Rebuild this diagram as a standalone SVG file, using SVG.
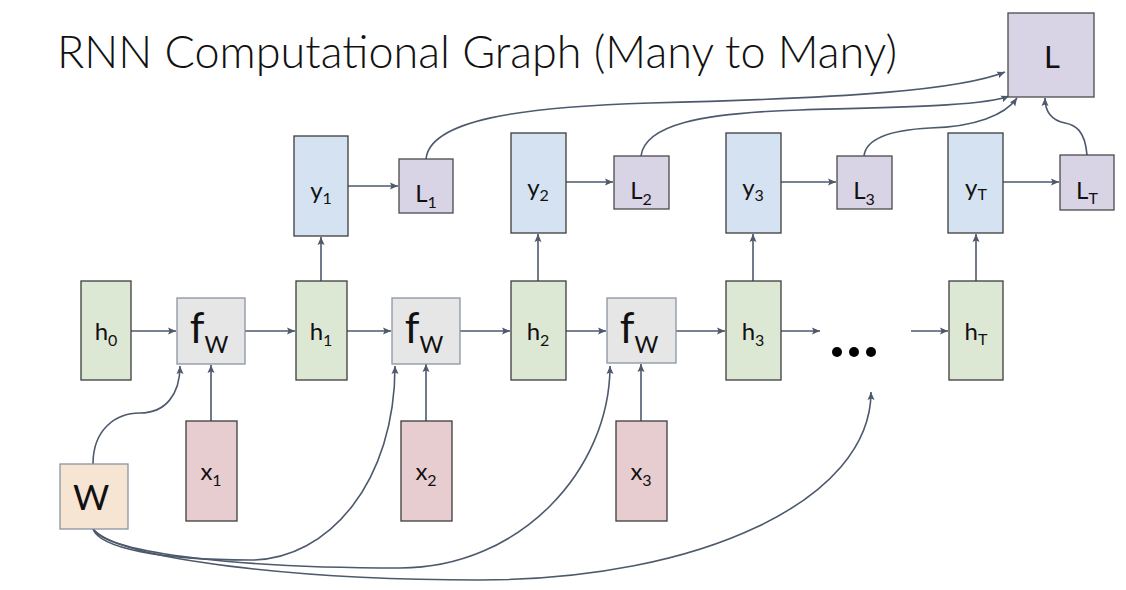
<svg xmlns="http://www.w3.org/2000/svg" width="1126" height="590" viewBox="0 0 1126 590">
<style>
  .lbl { font-family: Lato, "Open Sans", "Liberation Sans", sans-serif; font-size: 24px; fill: #111; text-anchor: middle; }
  .sub { font-size: 16px; }
  .fl { font-size: 42px; }
  .fsub { font-size: 23px; }
  .big { font-size: 31px; }
  .wl { font-size: 35px; }
  .y { fill: #d5e2f1; stroke: #3c3c3c; stroke-width: 1.3; }
  .l { fill: #d9d3e6; stroke: #4a4a4a; stroke-width: 1.3; }
  .h { fill: #dde8d4; stroke: #3c3c3c; stroke-width: 1.3; }
  .f { fill: #e6e6e6; stroke: #8a94a4; stroke-width: 1.3; }
  .x { fill: #e8cdd0; stroke: #3c3c3c; stroke-width: 1.3; }
  .w { fill: #f6e5d3; stroke: #8a94a4; stroke-width: 1.3; }
  .c { fill: none; stroke: #4d596c; stroke-width: 1.6; marker-end: url(#ah); }
</style>
<defs>
  <marker id="ah" markerUnits="userSpaceOnUse" markerWidth="9" markerHeight="8" refX="8" refY="4" orient="auto">
    <path d="M0,0.5 L8,4 L0,7.5 L1.5,4 z" fill="#4d596c"/>
  </marker>
</defs>
<rect width="1126" height="590" fill="#ffffff"/>
<text x="57" y="68" font-family="Lato, 'Open Sans', 'Liberation Sans', sans-serif" font-weight="300" font-size="46" fill="#111" textLength="840" lengthAdjust="spacingAndGlyphs">RNN Computational Graph (Many to Many)</text>

<g id="connectors">
  <path class="c" d="M131,331 H176"/>
  <path class="c" d="M245,331 H295"/>
  <path class="c" d="M347,331 H391"/>
  <path class="c" d="M460,331 H510"/>
  <path class="c" d="M566,331 H606"/>
  <path class="c" d="M676,331 H725"/>
  <path class="c" d="M781,331 H820"/>
  <path class="c" d="M911,331 H948"/>
  <path class="c" d="M348,186 H398"/>
  <path class="c" d="M566,182 H613"/>
  <path class="c" d="M781,182 H836"/>
  <path class="c" d="M1003,182 H1059"/>
  <path class="c" d="M321,281 V237"/>
  <path class="c" d="M538,281 V234"/>
  <path class="c" d="M753,281 V234"/>
  <path class="c" d="M976,281 V234"/>
  <path class="c" d="M211,421 V365"/>
  <path class="c" d="M426,421 V364"/>
  <path class="c" d="M641,421 V364"/>
  <path class="c" d="M93,464 C93,430 115,413 140,413 C165,413 180,395 180,366"/>
  <path class="c" d="M93,529 C100,548 160,560 250,560 C330,560 395,480 395,366"/>
  <path class="c" d="M93,529 C110,555 250,568 400,568 C520,568 610,470 610,366"/>
  <path class="c" d="M93,529 C120,560 300,580 480,580 C700,580 871,500 871,392"/>
  <path class="c" d="M426,159 C430,120 520,107 650,103 C850,98 960,90 1005,72"/>
  <path class="c" d="M641,156 C645,125 700,113 800,110 C900,107 985,106 1009,96"/>
  <path class="c" d="M864,156 C866,138 890,130 930,128 C975,127 1005,115 1017,98"/>
  <path class="c" d="M1087,155 C1085,130 1075,125 1065,123 C1050,120 1045,110 1045,98"/>
</g>

<g id="L"><rect class="l" x="1008" y="13" width="86" height="84"/><text class="lbl big" x="1052" y="68">L</text></g>

<g id="y1"><rect class="y" x="294" y="136" width="54" height="100"/><text class="lbl" x="321" y="199">y<tspan class="sub" dy="5">1</tspan></text></g>
<g id="L1"><rect class="l" x="399" y="159" width="54" height="54"/><text class="lbl" x="426" y="202">L<tspan class="sub" dy="6">1</tspan></text></g>
<g id="y2"><rect class="y" x="511" y="133" width="55" height="100"/><text class="lbl" x="538" y="196">y<tspan class="sub" dy="5">2</tspan></text></g>
<g id="L2"><rect class="l" x="614" y="156" width="55" height="53"/><text class="lbl" x="641" y="199">L<tspan class="sub" dy="6">2</tspan></text></g>
<g id="y3"><rect class="y" x="726" y="133" width="55" height="100"/><text class="lbl" x="753" y="196">y<tspan class="sub" dy="5">3</tspan></text></g>
<g id="L3"><rect class="l" x="837" y="156" width="55" height="53"/><text class="lbl" x="864" y="199">L<tspan class="sub" dy="6">3</tspan></text></g>
<g id="yT"><rect class="y" x="948" y="133" width="55" height="100"/><text class="lbl" x="976" y="196">y<tspan class="sub" dy="4">T</tspan></text></g>
<g id="LT"><rect class="l" x="1060" y="155" width="54" height="55"/><text class="lbl" x="1087" y="199">L<tspan class="sub" dy="5">T</tspan></text></g>

<g id="h0"><rect class="h" x="81" y="281" width="50" height="99"/><text class="lbl" x="106" y="340">h<tspan class="sub" dy="6">0</tspan></text></g>
<g id="fw1"><rect class="f" x="177" y="298" width="68" height="66"/><text class="lbl fl" x="209" y="343">f<tspan class="fsub" dy="10">W</tspan></text></g>
<g id="h1"><rect class="h" x="296" y="281" width="51" height="99"/><text class="lbl" x="321" y="340">h<tspan class="sub" dy="6">1</tspan></text></g>
<g id="fw2"><rect class="f" x="392" y="298" width="68" height="66"/><text class="lbl fl" x="424" y="343">f<tspan class="fsub" dy="10">W</tspan></text></g>
<g id="h2"><rect class="h" x="511" y="281" width="55" height="99"/><text class="lbl" x="538" y="340">h<tspan class="sub" dy="6">2</tspan></text></g>
<g id="fw3"><rect class="f" x="607" y="298" width="69" height="65"/><text class="lbl fl" x="639" y="343">f<tspan class="fsub" dy="10">W</tspan></text></g>
<g id="h3"><rect class="h" x="726" y="281" width="55" height="99"/><text class="lbl" x="753" y="340">h<tspan class="sub" dy="6">3</tspan></text></g>
<g id="dots"><circle cx="837" cy="352" r="5" fill="#000"/><circle cx="854" cy="352" r="5" fill="#000"/><circle cx="871" cy="352" r="5" fill="#000"/></g>
<g id="hT"><rect class="h" x="949" y="281" width="54" height="99"/><text class="lbl" x="976" y="340">h<tspan class="sub" dy="5">T</tspan></text></g>

<g id="x1"><rect class="x" x="186" y="421" width="51" height="100"/><text class="lbl" x="211" y="480">x<tspan class="sub" dy="6">1</tspan></text></g>
<g id="x2"><rect class="x" x="401" y="421" width="51" height="100"/><text class="lbl" x="426" y="480">x<tspan class="sub" dy="6">2</tspan></text></g>
<g id="x3"><rect class="x" x="616" y="421" width="51" height="100"/><text class="lbl" x="641" y="480">x<tspan class="sub" dy="6">3</tspan></text></g>
<g id="W"><rect class="w" x="60" y="464" width="68" height="65"/><text class="lbl wl" x="91" y="510">W</text></g>
</svg>
